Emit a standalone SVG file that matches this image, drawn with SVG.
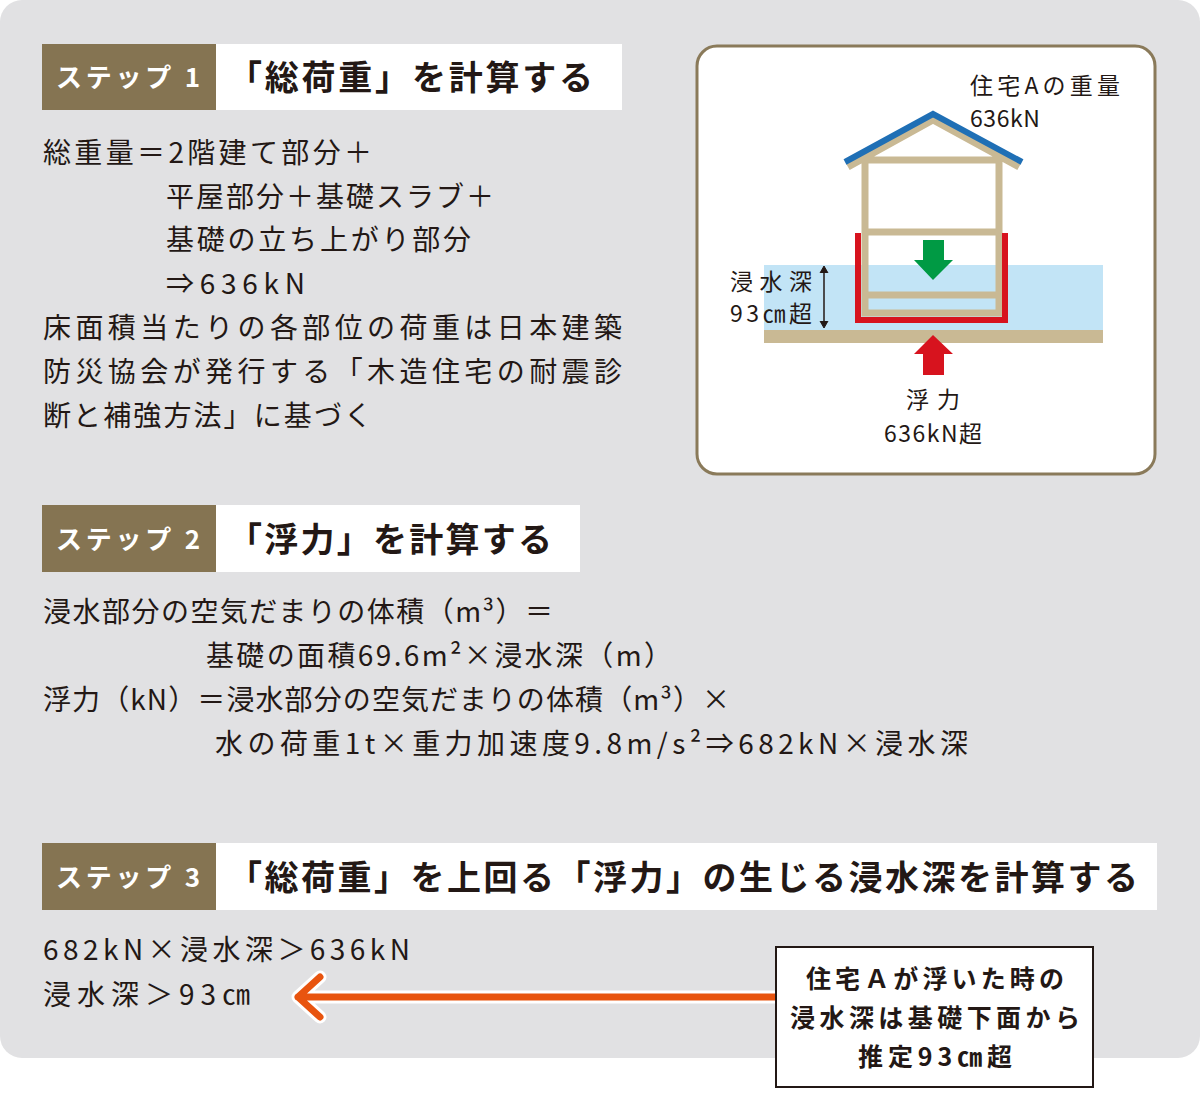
<svg xmlns="http://www.w3.org/2000/svg" width="1200" height="1094" viewBox="0 0 1200 1094">
<style>
.t{font-family:"Noto Sans CJK JP","Liberation Sans",sans-serif;fill:#231815}
.b{font-size:28px}
.hd{font-size:26px;font-weight:bold;fill:#fff}
.ti{font-size:34px;font-weight:bold}
.s{font-size:23px}
.bx{font-size:25px;font-weight:bold}
.beam{stroke:#c9b994;stroke-width:7;fill:none}
</style>
<rect x="0" y="0" width="1200" height="1058" rx="22" fill="#e1e1e3"/>
<g id="step1">
<rect x="42" y="44" width="174" height="66" fill="#857452"/>
<rect x="216" y="44" width="406" height="66" fill="#fff"/>
<text class="t hd" x="56" y="87" textLength="144">ステップ 1</text>
<text class="t ti" x="228" y="90" textLength="365">「総荷重」を計算する</text>
<text class="t b" x="43" y="163" textLength="329">総重量＝2階建て部分＋</text>
<text class="t b" x="166" y="207" textLength="328">平屋部分＋基礎スラブ＋</text>
<text class="t b" x="166" y="250" textLength="305">基礎の立ち上がり部分</text>
<text class="t b" x="166" y="294" textLength="139">⇒636kN</text>
<text class="t b" x="43" y="338" textLength="579">床面積当たりの各部位の荷重は日本建築</text>
<text class="t b" x="43" y="382" textLength="579">防災協会が発行する「木造住宅の耐震診</text>
<text class="t b" x="43" y="426" textLength="329">断と補強方法」に基づく</text>
</g>
<g id="figure">
<rect x="697" y="46" width="458" height="428" rx="20" fill="#fff" stroke="#8a7a5a" stroke-width="3"/>
<rect x="764" y="265" width="339" height="65" fill="#c2e4f6"/>
<rect x="764" y="330" width="339" height="13" fill="#c9b994"/>
<path class="beam" d="M848 167 L933 120 L1019 167 M865 160 V313 H999 V160 Z M865 232 H999 M865 295 H999"/>
<path d="M845 162 L933 114 L1022 162" fill="none" stroke="#1f6fb5" stroke-width="6"/>
<path d="M858 233 V320 H1005 V233" fill="none" stroke="#d7131e" stroke-width="6"/>
<path d="M923 240 H944 V260 H953 L933 280 L914 260 H923 Z" fill="#009a44"/>
<path d="M933 335 L953 354 H944 V375 H923 V354 H914 Z" fill="#d7131e"/>
<path d="M824 270 V324" stroke="#231815" stroke-width="1.5"/>
<path d="M820 273 L824 266 L828 273 M820 321 L824 328 L828 321" fill="#231815" stroke="#231815" stroke-width="1"/>
<text class="t s" x="970" y="94" textLength="150">住宅Aの重量</text>
<text class="t s" x="970" y="127" textLength="70">636kN</text>
<text class="t s" x="730" y="290" textLength="82">浸水深</text>
<text class="t s" x="730" y="322" textLength="82">93㎝超</text>
<text class="t s" x="906" y="408" textLength="54">浮力</text>
<text class="t s" x="884" y="442" textLength="98">636kN超</text>
</g>
<g id="step2">
<rect x="42" y="505" width="174" height="67" fill="#857452"/>
<rect x="216" y="505" width="364" height="67" fill="#fff"/>
<text class="t hd" x="56" y="549" textLength="144">ステップ 2</text>
<text class="t ti" x="228" y="552" textLength="324">「浮力」を計算する</text>
<text class="t b" x="43" y="622" textLength="510">浸水部分の空気だまりの体積（m³）＝</text>
<text class="t b" x="206" y="666" textLength="466">基礎の面積69.6m²×浸水深（m）</text>
<text class="t b" x="43" y="710" textLength="687">浮力（kN）＝浸水部分の空気だまりの体積（m³）×</text>
<text class="t b" x="215" y="754" textLength="753">水の荷重1t×重力加速度9.8m/s²⇒682kN×浸水深</text>
</g>
<g id="step3">
<rect x="42" y="843" width="174" height="67" fill="#857452"/>
<rect x="216" y="843" width="941" height="67" fill="#fff"/>
<text class="t hd" x="56" y="887" textLength="144">ステップ 3</text>
<text class="t ti" x="228" y="890" textLength="910">「総荷重」を上回る「浮力」の生じる浸水深を計算する</text>
<text class="t b" x="43" y="960" textLength="367">682kN×浸水深＞636kN</text>
<text class="t b" x="43" y="1005" textLength="207">浸水深＞93㎝</text>
</g>
<g id="connectors">
<path d="M776 997 H298 M320 977 L298 997 L320 1017" fill="none" stroke="#fff" stroke-width="13" stroke-linecap="round" stroke-linejoin="round"/>
<path d="M776 997 H298 M320 977 L298 997 L320 1017" fill="none" stroke="#e8540f" stroke-width="7" stroke-linecap="round" stroke-linejoin="round"/>
</g>
<g id="note">
<rect x="776" y="947" width="317" height="140" fill="#fff" stroke="#231815" stroke-width="2"/>
<text class="t bx" x="806" y="988" textLength="258">住宅Ａが浮いた時の</text>
<text class="t bx" x="790" y="1027" textLength="290">浸水深は基礎下面から</text>
<text class="t bx" x="858" y="1066" textLength="154">推定93㎝超</text>
</g>
</svg>
